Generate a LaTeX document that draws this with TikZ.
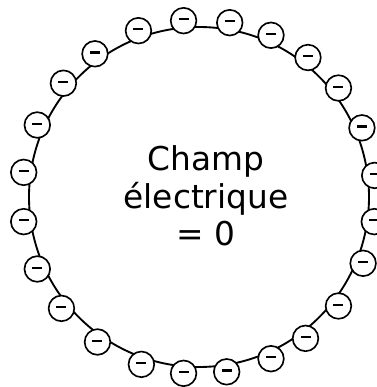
\documentclass[tikz,border=0pt]{standalone}
\usepackage{fontspec}
\setmainfont{DejaVu Sans}
\begin{document}
\begin{tikzpicture}[x=0.03cm,y=0.03cm,
  charge/.style={draw,circle,fill=white,line width=1.4pt,minimum size=0.77cm,inner sep=0pt,
    path picture={\draw[line width=1.9pt] ([xshift=-0.15cm,yshift=0.04cm]path picture bounding box.center) -- ([xshift=0.15cm,yshift=0.04cm]path picture bounding box.center);}}]
\useasboundingbox (0,0) rectangle (377,387);
\coordinate (c) at (199,190);
\draw[line width=1.6pt] (c) circle[radius=170];
\foreach \a in {95,80,66,52,38,23,7,-8,-22,-38,-53,-66,-81,-95,-109,-125,-141,-156,-172,172,156,140,126,110}
  \node[charge] (q\a) at ([shift={(\a:177)}]c) {};
\node[align=center,font=\fontsize{28}{32}\selectfont] (txt) at (206,191) {Champ\\électrique\\= 0};
\end{tikzpicture}
\end{document}
